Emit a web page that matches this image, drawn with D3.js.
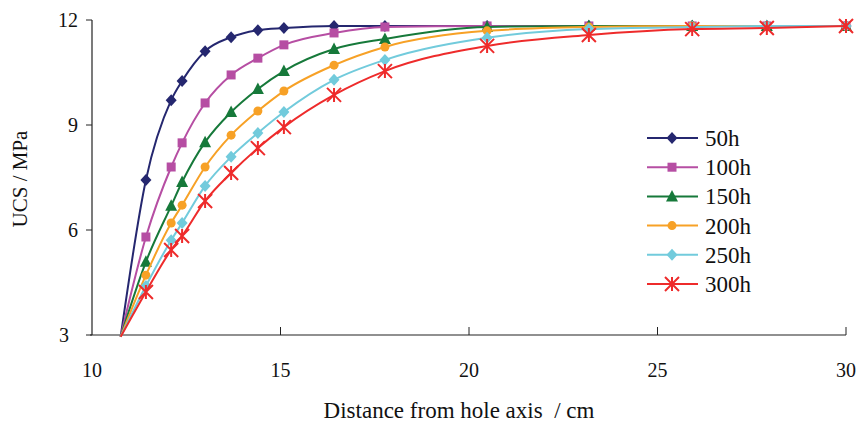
<!DOCTYPE html>
<html lang="en">
<head>
    <meta charset="UTF-8">
    <title>UCS vs Distance</title>
    <style>
        body { margin: 0; background: #fff; }
        svg { display: block; }
        svg text { font-family: "Liberation Serif", "DejaVu Serif", serif; fill: #111; }
        .tick-label { font-size: 20px; }
        .axis-title { font-size: 21px; }
        .x-title { font-size: 23px; }
        .legend-item text { font-size: 23px; }
    </style>
    <script src="https://d3js.org/d3.v7.min.js"></script>
</head>
<body>
    <svg id="chart" width="861" height="428"></svg>
    <script>
        // distance of each marked point (cm)
        const distances = [11.43, 12.1, 12.39, 13.0, 13.69, 14.4, 15.09, 16.42, 17.77, 20.48, 23.18, 25.92, 27.9, 30];
        const startPoint = [10.76, 2.95];

        const series = ["50h", "100h", "150h", "200h", "250h", "300h"];
        const ucs50 = [7.43, 9.71, 10.26, 11.11, 11.51, 11.71, 11.77, 11.83, 11.83, 11.83, 11.83, 11.83, 11.83, 11.83];
        const ucs100 = [5.8, 7.8, 8.49, 9.63, 10.43, 10.91, 11.29, 11.63, 11.8, 11.83, 11.83, 11.83, 11.83, 11.83];
        const ucs150 = [5.09, 6.69, 7.37, 8.51, 9.37, 10.03, 10.54, 11.17, 11.46, 11.8, 11.83, 11.83, 11.83, 11.83];
        const ucs200 = [4.71, 6.2, 6.71, 7.8, 8.71, 9.4, 9.97, 10.71, 11.23, 11.69, 11.8, 11.83, 11.83, 11.83];
        const ucs250 = [4.4, 5.71, 6.2, 7.26, 8.09, 8.77, 9.37, 10.29, 10.86, 11.49, 11.74, 11.8, 11.83, 11.83];
        const ucs300 = [4.23, 5.43, 5.83, 6.83, 7.63, 8.34, 8.94, 9.86, 10.54, 11.26, 11.57, 11.74, 11.77, 11.83];
        const values = [ucs50, ucs100, ucs150, ucs200, ucs250, ucs300];

        const xTicks = [10, 15, 20, 25, 30];
        const yTicks = [3, 6, 9, 12];

        const colors = ["#25276f", "#b64ea3", "#16793a", "#f7a126", "#72cbdc", "#ee2b2b"];
        const markers = ["diamond", "square", "triangle", "circle", "diamond", "star"];

        const svg = d3.select("#chart");
        const x = d3.scaleLinear().domain([10, 30]).range([92, 846]);
        const y = d3.scaleLinear().domain([3, 12]).range([335, 20]);

        // axes
        svg.append("line").attr("x1", 92).attr("x2", 92).attr("y1", y(12)).attr("y2", y(3))
            .attr("stroke", "#222").attr("stroke-width", 1.2);
        svg.append("line").attr("x1", 90).attr("x2", x(30)).attr("y1", y(3)).attr("y2", y(3))
            .attr("stroke", "#222").attr("stroke-width", 1.2);

        yTicks.forEach(t => {
            svg.append("line").attr("x1", 86).attr("x2", 92).attr("y1", y(t)).attr("y2", y(t))
                .attr("stroke", "#222").attr("stroke-width", 1);
            svg.append("text").attr("class", "tick-label")
                .attr("x", t === 12 ? 68 : (t === 3 ? 64 : 73)).attr("y", y(t) + 7)
                .attr("text-anchor", "middle").text(t);
        });
        xTicks.forEach(t => {
            if (t > 10) {
                svg.append("line").attr("x1", x(t)).attr("x2", x(t)).attr("y1", y(3) - 8).attr("y2", y(3))
                    .attr("stroke", "#222").attr("stroke-width", 1);
            }
            svg.append("text").attr("class", "tick-label")
                .attr("x", x(t)).attr("y", 377)
                .attr("text-anchor", "middle").text(t);
        });

        svg.append("text").attr("class", "x-title")
            .attr("x", 459).attr("y", 418).attr("text-anchor", "middle")
            .style("white-space", "pre")
            .text("Distance from hole axis  / cm");
        svg.append("text").attr("class", "axis-title")
            .attr("transform", "translate(27,179) rotate(-90)")
            .attr("text-anchor", "middle")
            .text("UCS / MPa");

        function drawMarker(g, type, color, cx, cy) {
            if (type === "diamond") {
                g.append("path").attr("d", `M${cx},${cy - 6}L${cx + 5.5},${cy}L${cx},${cy + 6}L${cx - 5.5},${cy}Z`)
                    .attr("fill", color);
            } else if (type === "square") {
                g.append("rect").attr("x", cx - 4.5).attr("y", cy - 4.5).attr("width", 9).attr("height", 9)
                    .attr("fill", color);
            } else if (type === "triangle") {
                g.append("path").attr("d", `M${cx},${cy - 6.5}L${cx + 6},${cy + 5}L${cx - 6},${cy + 5}Z`)
                    .attr("fill", color);
            } else if (type === "circle") {
                g.append("circle").attr("cx", cx).attr("cy", cy).attr("r", 4.5).attr("fill", color);
            } else if (type === "star") {
                const r = 7;
                g.append("path")
                    .attr("d", `M${cx},${cy - r}L${cx},${cy + r}M${cx - r},${cy - r}L${cx + r},${cy + r}M${cx - r},${cy + r}L${cx + r},${cy - r}`)
                    .attr("stroke", color).attr("stroke-width", 2).attr("fill", "none");
            }
        }

        const line = d3.line()
            .x(d => x(d[0]))
            .y(d => y(d[1]))
            .curve(d3.curveMonotoneX);

        series.forEach((name, i) => {
            const pts = [startPoint].concat(distances.map((d, j) => [d, values[i][j]]));
            const g = svg.append("g");
            g.append("path").datum(pts).attr("d", line)
                .attr("fill", "none").attr("stroke", colors[i]).attr("stroke-width", 2);
            pts.slice(1).forEach(p => drawMarker(g, markers[i], colors[i], x(p[0]), y(p[1])));
        });

        // legend
        const legend = svg.append("g");
        series.forEach((name, i) => {
            const ly = 138 + i * 29.2;
            const item = legend.append("g").attr("class", "legend-item");
            item.append("line").attr("x1", 647).attr("x2", 698).attr("y1", ly).attr("y2", ly)
                .attr("stroke", colors[i]).attr("stroke-width", 2);
            drawMarker(item, markers[i], colors[i], 672, ly);
            item.append("text").attr("x", 705).attr("y", ly + 8).text(name);
        });
    </script>
</body>
</html>
